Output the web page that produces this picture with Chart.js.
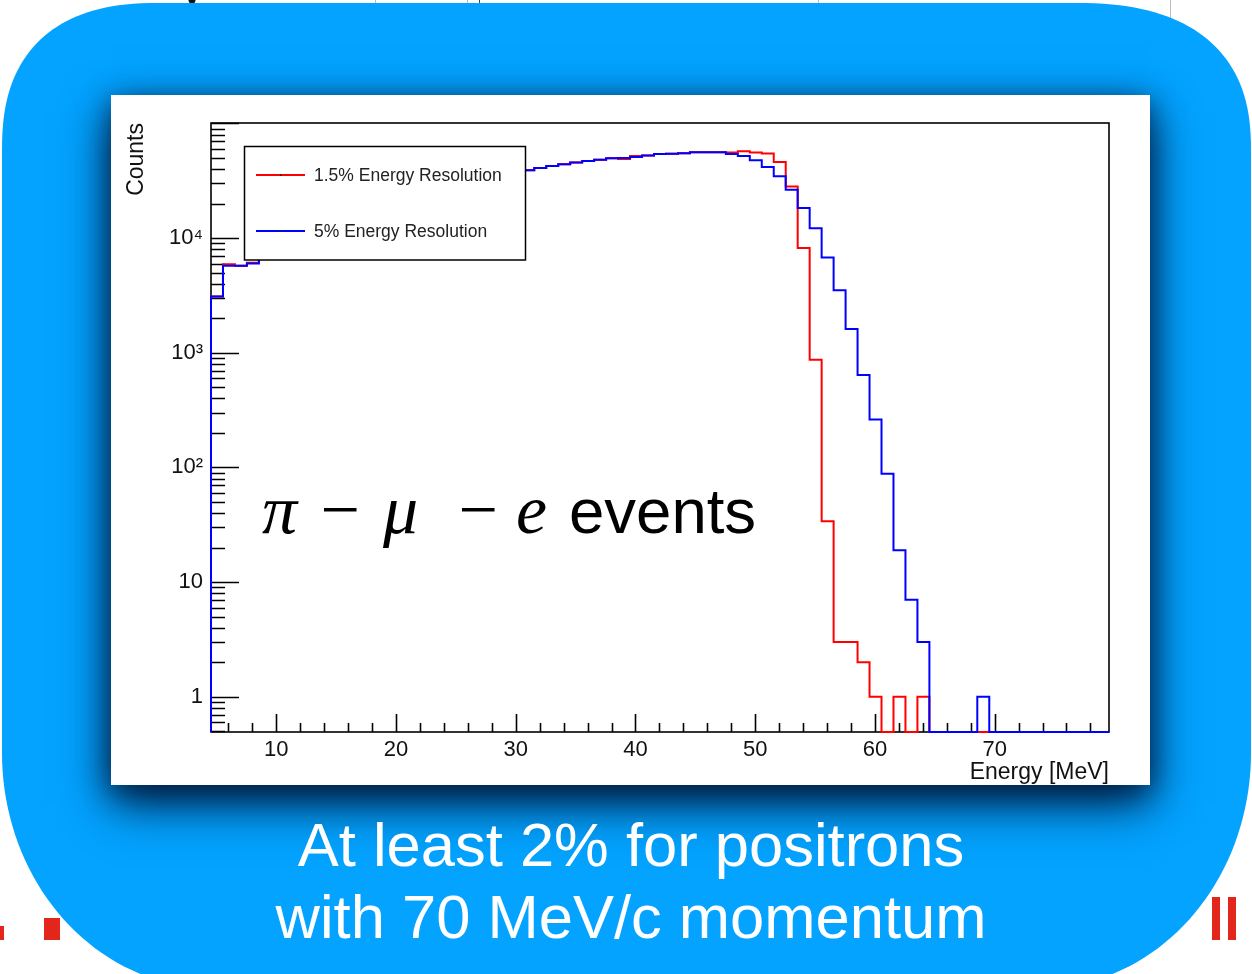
<!DOCTYPE html>
<html><head><meta charset="utf-8">
<script src="https://cdn.jsdelivr.net/npm/chart.js@4.4.1/dist/chart.umd.min.js"></script>
<style>html,body{margin:0;padding:0;background:#fff;overflow:hidden}#wrap{position:relative;width:1252px;height:974px}</style>
</head><body><div id="wrap"><canvas id="c" width="1252" height="974"></canvas></div>
<script>
// ---- data ----
const binLowEdges = [4.55,5.55,6.55,7.55,8.55,9.55,10.55,11.55,12.55,13.55,14.55,15.55,16.55,17.55,18.55,19.55,20.55,21.55,22.55,23.55,24.55,25.55,26.55,27.55,28.55,29.55,30.55,31.55,32.55,33.55,34.55,35.55,36.55,37.55,38.55,39.55,40.55,41.55,42.55,43.55,44.55,45.55,46.55,47.55,48.55,49.55,50.55,51.55,52.55,53.55,54.55,55.55,56.55,57.55,58.55,59.55,60.55,61.55,62.55,63.55,64.55,65.55,66.55,67.55,68.55,69.55,70.55,71.55,72.55,73.55,74.55,75.55,76.55,77.55,78.55];
const binUpperEdge = 79.55;
const counts15 = [3100,5900,5730,6100,
  7000,7700,8500,9400,10400,11500,12700,14000,15400,16800,18300,19900,21500,23100,24800,26500,28200,29900,31600,33400,35200,37100,
  39000,40800,42500,44000,45700,47000,48300,49600,49000,52000,52500,54000,54500,55000,56000,56000,56000,
  55700,57300,55700,54600,46100,28200,8200,867,34,3,3,2,1,0,1,0,1,
  0,0,0,0,0,0,0,0,0,0,0,0,0,0,0];
const counts5 = [3100,5730,5730,5990,
  7000,7700,8500,9400,10400,11500,12700,14000,15400,16800,18300,19900,21500,23100,24800,26500,28200,29900,31600,33400,35200,37100,
  39000,40800,42500,44000,45700,47000,48300,49600,50000,51000,52500,54000,54500,55000,56000,56000,56000,
  54000,52000,47700,41700,34600,26400,18300,12200,6770,3500,1614,641,262,88,19,7,3,
  0,0,0,0,1,0,0,0,0,0,0,0,0,0,0];
const seriesLabels = ['1.5% Energy Resolution', '5% Energy Resolution'];
const xTickValues = [10,20,30,40,50,60,70];
const yTickValues = [1,10,100,1000,10000];
const yTickLabels = ['1','10','10\u00B2','10\u00B3','10\u2074'];
const xTitle = 'Energy [MeV]';
const yTitle = 'Counts';
const annotationMath = ['\u03C0','\u2212','\u03BC','\u2212','e'];
const annotationWord = 'events';
const captionLines = ['At least 2% for positrons', 'with 70 MeV/c momentum'];
const X_MIN = 4.55, X_MAX = 79.55, Y_MIN = 0.493, Y_MAX = 1.008e5;

function toPoints(counts){
  const pts = [{x: binLowEdges[0], y: Y_MIN}];
  counts.forEach((c,i)=>pts.push({x: binLowEdges[i], y: c > 0 ? c : Y_MIN}));
  const last = counts[counts.length-1];
  pts.push({x: binUpperEdge, y: last > 0 ? last : Y_MIN});
  return pts;
}

const SANS = '"Liberation Sans", Arial, Helvetica, sans-serif';

function cornerPts(cx, cy, rx, ry, sx, sy, n, reverse){
  const pts = [];
  const N = 40;
  for (let k=0;k<=N;k++){
    const t = (reverse ? (N-k) : k) / N * Math.PI/2;
    const c = Math.pow(Math.cos(t), 2/n), s = Math.pow(Math.sin(t), 2/n);
    pts.push([cx + sx*rx*c, cy + sy*ry*s]);
  }
  return pts;
}
function shapePath(ctx){
  const L=2, R=1251, T=3, B=988;
  let pts = [];
  pts = pts.concat(cornerPts(L+160, T+150, 160, 150, -1, -1, 2.5, false));
  pts = pts.concat(cornerPts(R-180, T+150, 180, 150, 1, -1, 2.5, true));
  pts = pts.concat(cornerPts(R-210, B-235, 210, 235, 1, 1, 2, false));
  pts = pts.concat(cornerPts(L+210, B-235, 210, 235, -1, 1, 2, true));
  ctx.beginPath();
  pts.forEach((p,i)=> i ? ctx.lineTo(p[0],p[1]) : ctx.moveTo(p[0],p[1]));
  ctx.closePath();
}

const bgPlugin = {
  id: 'bg',
  beforeDraw(chart){
    const ctx = chart.ctx;
    ctx.save();
    ctx.fillStyle = '#fff'; ctx.fillRect(0,0,1252,974);
    // underlying slide fragments
    ctx.fillStyle = '#111'; ctx.beginPath(); ctx.arc(192,0,3.5,0,Math.PI*2); ctx.fill();
    ctx.strokeStyle = '#bbb'; ctx.lineWidth = 1;
    [[375,5],[467,5],[818,5],[1170,22]].forEach(([x,h])=>{ctx.beginPath();ctx.moveTo(x+0.5,0);ctx.lineTo(x+0.5,h);ctx.stroke();});
    ctx.strokeStyle = '#444'; ctx.beginPath(); ctx.moveTo(479.5,0); ctx.lineTo(479.5,8); ctx.stroke();
    ctx.fillStyle = '#e3261c';
    ctx.fillRect(0,926,4,14); ctx.fillRect(44,918,16,22);
    ctx.fillRect(1212,897,8,43); ctx.fillRect(1228,897,8,43);
    // blue rounded shape
    shapePath(ctx);
    ctx.fillStyle = '#03a3ff'; ctx.fill();
    // white panel with shadow
    ctx.save();
    shapePath(ctx); ctx.clip();
    ctx.shadowColor = 'rgba(0,25,60,1)'; ctx.shadowBlur = 45; ctx.shadowOffsetY = 18;
    ctx.fillStyle = '#fff'; ctx.fillRect(111,95,1039,690);
    ctx.shadowColor = 'rgba(0,25,60,0.6)'; ctx.shadowBlur = 25; ctx.shadowOffsetY = 6;
    ctx.fillRect(111,95,1039,690);
    ctx.restore();
    ctx.fillStyle = '#fff'; ctx.fillRect(111,95,1039,690);
    // caption
    ctx.fillStyle = '#fff'; ctx.font = '61.5px ' + SANS; ctx.textAlign = 'center'; ctx.textBaseline = 'alphabetic';
    ctx.fillText(captionLines[0], 631, 866);
    ctx.fillText(captionLines[1], 631, 938);
    ctx.restore();
  },
  beforeDatasetsDraw(chart){
    const ctx = chart.ctx, a = chart.chartArea, xs = chart.scales.x, ys = chart.scales.y;
    ctx.save();
    ctx.strokeStyle = '#000'; ctx.lineWidth = 1.6;
    ctx.strokeRect(a.left, a.top, a.right-a.left, a.bottom-a.top);
    ctx.beginPath();
    for (let v = 6; v < X_MAX; v += 2){
      const px = Math.round(xs.getPixelForValue(v)) + 0.5;
      const len = (v % 10 === 0) ? 18 : 9;
      ctx.moveTo(px, a.bottom); ctx.lineTo(px, a.bottom - len);
    }
    for (let d = -1; d <= 5; d++){
      for (let m = 1; m <= 9; m++){
        const v = m * Math.pow(10, d);
        if (v < Y_MIN || v > Y_MAX) continue;
        const py = Math.round(ys.getPixelForValue(v)) + 0.5;
        const len = (m === 1) ? 28 : 14;
        ctx.moveTo(a.left, py); ctx.lineTo(a.left + len, py);
      }
    }
    ctx.stroke();
    ctx.restore();
  },
  afterDatasetsDraw(chart){
    const ctx = chart.ctx, a = chart.chartArea;
    ctx.save();
    // legend box (ROOT style, inside the frame, opaque)
    const lx = 244.5, ly = 146.5, lw = 281, lh = 113.5;
    ctx.fillStyle = '#fff'; ctx.fillRect(lx, ly, lw, lh);
    ctx.strokeStyle = '#000'; ctx.lineWidth = 1.5; ctx.strokeRect(lx, ly, lw, lh);
    const rows = [175, 231];
    chart.data.datasets.forEach((ds, i) => {
      const y = rows[i];
      ctx.strokeStyle = ds.borderColor; ctx.lineWidth = 1.8;
      ctx.beginPath(); ctx.moveTo(256, y); ctx.lineTo(305, y); ctx.stroke();
      ctx.fillStyle = '#222'; ctx.fillRect(280, y-1, 1.5, 2);
      ctx.fillStyle = '#222'; ctx.font = '17.5px ' + SANS; ctx.textAlign = 'left'; ctx.textBaseline = 'middle';
      ctx.fillText(ds.label, 314, y + 1);
    });
    // annotation: pi - mu - e events
    ctx.fillStyle = '#000';
    ctx.textBaseline = 'alphabetic'; ctx.textAlign = 'left';
    const offs = [51, 105, 172, 243, 305];
    const y = 533;
    ctx.font = 'italic 70px "Liberation Serif", "DejaVu Serif", serif';
    annotationMath.forEach((s, i) => ctx.fillText(s, a.left + offs[i], y));
    ctx.font = '63.5px ' + SANS;
    ctx.fillText(annotationWord, a.left + 358, y);
    ctx.restore();
  }
};

const chart = new Chart(document.getElementById('c'), {
  type: 'line',
  data: {
    datasets: [
      { label: seriesLabels[0], data: toPoints(counts15), borderColor: '#ff0000', borderWidth: 2, stepped: 'before', pointRadius: 0, fill: false, order: 2, clip: false },
      { label: seriesLabels[1], data: toPoints(counts5), borderColor: '#0000ff', borderWidth: 2, stepped: 'before', pointRadius: 0, fill: false, order: 1, clip: false }
    ]
  },
  options: {
    responsive: false, animation: false, devicePixelRatio: 1,
    layout: { padding: { left: 111, top: 123, right: 143, bottom: 182 } },
    plugins: { legend: { display: false }, tooltip: { enabled: false } },
    scales: {
      x: {
        type: 'linear', min: X_MIN, max: X_MAX,
        afterFit: s => { s.height = 60; },
        afterBuildTicks: s => { s.ticks = xTickValues.map(v => ({ value: v })); },
        grid: { display: false, drawTicks: false }, border: { display: false },
        ticks: { color: '#111', font: { family: SANS, size: 22 }, padding: 5, maxRotation: 0, autoSkip: false, callback: v => String(v) },
        title: { display: true, text: xTitle, align: 'end', color: '#111', font: { family: SANS, size: 23 }, padding: { top: 0, bottom: 6 } }
      },
      y: {
        type: 'logarithmic', min: Y_MIN, max: Y_MAX,
        afterFit: s => { s.width = 100; },
        afterBuildTicks: s => { s.ticks = yTickValues.map(v => ({ value: v })); },
        grid: { display: false, drawTicks: false }, border: { display: false },
        ticks: { color: '#111', font: { family: SANS, size: 22 }, padding: 8, autoSkip: false, callback: v => yTickLabels[yTickValues.indexOf(v)] },
        title: { display: true, text: yTitle, align: 'end', color: '#111', font: { family: SANS, size: 23 }, padding: { top: 12, bottom: 0 } }
      }
    }
  },
  plugins: [bgPlugin]
});
</script></body></html>
